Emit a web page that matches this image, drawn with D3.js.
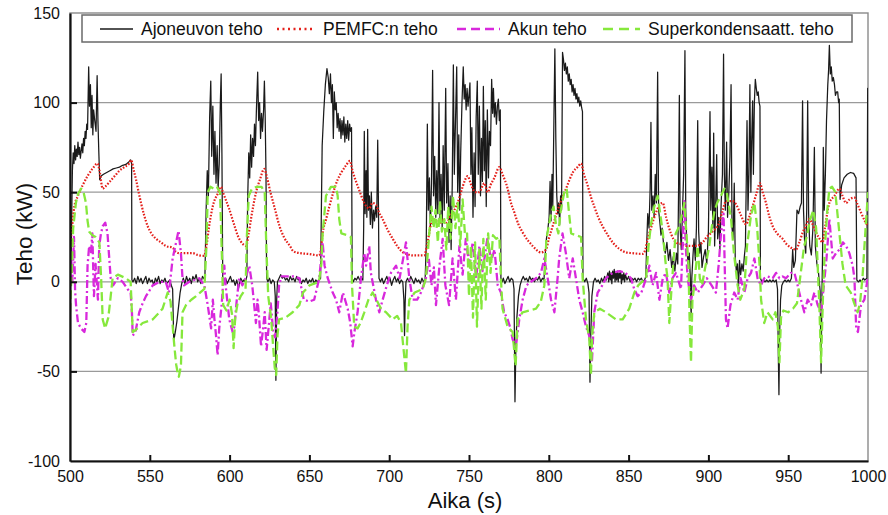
<!DOCTYPE html>
<html>
<head>
<meta charset="utf-8">
<script src="https://cdn.jsdelivr.net/npm/d3@7/dist/d3.min.js"></script>
<style>
  html, body { margin: 0; padding: 0; background: #fff; }
  svg { display: block; }
  text { font-family: "Liberation Sans", Arial, Helvetica, sans-serif; fill: #111; }
</style>
</head>
<body>
<svg id="chart" width="888" height="515"></svg>
<script>
// Power flows over time, [time s, power kW]
const vehiclePower = [
  [500,0],[500.8,20],[501.5,62],[502,72],[502.5,66],[503,76],[503.5,68],[504,74],[504.5,70],[505,78],
  [505.5,71],[506,75],[506.5,69],[507,73],[507.5,77],[508,72],[508.5,80],[509,76],[509.5,84],[510,80],
  [510.5,88],[511,85],[511.7,120],[512.2,98],[512.8,110],[513.3,86],[513.8,104],[514.3,82],[514.8,96],
  [515.5,90],[516.3,84],[517,115],[517.5,90],[518,74],[518.6,57],[519.5,59],[521,60],[523,61],[525,62],
  [527,63],[529,63.5],[531,64],[533,65],[535,65.5],[537,67],[538,68],[538.6,66],[538.8,1],[539.5,0],
  [540.5,2],[541.5,-1],[542.5,3],[543.5,0],[544.5,2],[545.5,-1],[546.5,1],[547.5,3],[548.5,-1],[549.5,2],
  [550.5,0],[551.5,1],[552.5,-2],[553.5,2],[554.5,0],[555.5,3],[556.5,-1],[557.5,1],[558.5,0],[559.5,2],
  [560.5,-1],[561.5,0],[562.5,1],[563.5,-2],[564.3,-4],[565,-33],[566,-28],[567,-22],[568,-14],[569,-6],
  [570,-1],[571,2],[572,-1],[573,3],[574,0],[575,2],[576,-1],[577,3],[578,1],[579,4],[580,0],[581,2],
  [582,-1],[583,3],[584.5,1],[585.3,40],[586,62],[586.7,48],[587.5,92],[588.2,112],[588.8,70],[589.5,98],
  [590.2,60],[590.8,84],[591.5,55],[592.2,76],[592.8,52],[593.5,66],[594.2,100],[594.7,116],[595.2,70],
  [595.7,2],[596.5,0],[597.5,2],[598.5,-1],[599.5,1],[600.5,3],[601.5,0],[602.5,1],[603.5,-2],[604.5,1],
  [605.5,-4],[606.2,-1],[607,2],[608,0],[609,1],[610,0],[610.8,3],[611.3,45],[612,72],[612.6,58],[613.2,82],
  [613.8,64],[614.4,80],[615,70],[615.6,88],[616.2,76],[616.8,96],[617.6,117],[618.2,90],[618.8,100],
  [619.4,80],[620,94],[620.6,84],[621.3,96],[621.8,112],[622.3,92],[622.8,60],[623.2,2],[624,0],[625,2],
  [626,-1],[627,1],[628,0],[628.6,-8],[629,-55],[629.5,-10],[630,0],[631,2],[632,4],[633,2],[634,3],
  [635,1],[636,2],[637,0],[638,3],[639,1],[640,2],[641,0],[642,3],[643,1],[644,2],[645,-1],[646,1],[647,0],
  [648,2],[649,-1],[650,1],[651,0],[652,2],[653,-1],[654,1],[655,0],[656,1],[657,2],[657.5,40],[658,76],
  [659,95],[660,110],[661,119],[661.8,114],[662.5,105],[663.2,116],[663.8,100],[664.4,110],[665,80],
  [665.6,106],[666.2,96],[666.8,100],[667.4,86],[668,94],[668.6,84],[669.2,91],[669.8,80],[670.4,90],
  [671,82],[671.6,92],[672.2,78],[672.8,88],[673.4,80],[674,90],[674.6,79],[675.2,88],[675.8,84],
  [676.4,86],[676.8,2],[677.5,0],[678.5,2],[679.5,1],[680.5,3],[681.5,1],[682.5,2],[683.5,1],[684,30],
  [684.4,84],[684.9,38],[685.5,62],[686,36],[686.5,85],[687,40],[687.6,48],[688.2,32],[688.8,50],
  [689.5,30],[690.2,40],[690.8,34],[691.5,42],[692.2,36],[692.8,79],[693.3,40],[693.6,2],[694.5,0],
  [695.5,2],[696.5,-1],[697.5,1],[698.5,3],[699.5,0],[700.5,2],[701.5,-2],[702.5,1],[703.5,3],[704.5,0],
  [705.5,2],[706.5,-1],[707.5,1],[708.5,0],[709.2,-10],[709.6,-30],[710,-12],[710.5,0],[711.5,2],
  [712.5,0],[713.5,3],[714.5,1],[715.5,-1],[716.5,2],[717.5,0],[718.5,1],[719.5,-1],[720.5,2],[721.5,0],
  [722.5,1],[723.2,20],[723.9,88],[724.5,40],[725.2,58],[725.8,30],[726.5,55],[727.2,118],[727.8,48],
  [728.5,70],[729.2,36],[729.8,62],[730.5,38],[731.2,100],[731.8,34],[732.5,60],[733.2,30],[733.8,76],
  [734.5,40],[735.4,108],[736,44],[736.8,66],[737.5,22],[738.2,48],[738.8,18],[739.5,54],[740.2,121],
  [740.8,60],[741.5,88],[742.3,120],[742.9,50],[743.6,82],[744.2,40],[744.8,72],[745.6,100],[746.4,120],
  [747,102],[747.6,110],[748.2,96],[748.8,108],[749.4,98],[750,104],[750.6,111],[751.2,60],[751.8,86],
  [752.5,36],[753.2,72],[753.8,42],[754.5,92],[755.2,112],[755.8,60],[756.5,98],[757.2,48],[757.8,80],
  [758.4,56],[759,109],[759.6,62],[760.2,90],[760.8,42],[761.5,96],[762.2,58],[762.8,84],[763.5,76],
  [764.2,113],[764.8,94],[765.3,108],[765.9,92],[766.5,100],[767.2,88],[767.8,98],[768.4,102],[769,90],
  [769.6,96],[770,2],[770.8,0],[771.5,2],[772.5,-1],[773.5,1],[774.5,3],[775.5,0],[776.5,2],[777.5,1],
  [778.2,-4],[778.8,-67],[779.3,-40],[780,-20],[781,-8],[782,-2],[783,1],[784,3],[785,1],[786,2],[787,0],
  [788,3],[789,1],[790,2],[791,0],[792,2],[793,1],[794,3],[795,0],[796,2],[797,1],[797.5,12],[798.5,24],
  [799.5,30],[800.2,36],[800.8,56],[801.4,34],[802,60],[802.5,42],[803.2,90],[803.8,130],[804.4,80],
  [805,48],[805.6,38],[806.2,44],[806.8,32],[807.4,48],[808,40],[808.6,128],[809.2,124],[809.8,118],
  [810.4,122],[811,116],[811.6,120],[812.2,112],[812.8,116],[813.4,110],[814,113],[814.6,106],[815.2,110],
  [815.8,104],[816.4,108],[817,102],[817.6,105],[818.2,100],[818.8,103],[819.4,98],[820,101],[820.6,97],
  [821.1,95],[821.4,2],[822.5,0],[823.5,2],[824.5,-1],[825.2,-6],[825.8,-56],[826.3,-30],[827,-8],
  [828,0],[829,2],[830,0],[831,1],[832,-1],[833,2],[834,0],[835,3],[836,1],[837,5],[837.5,0],[838,6],
  [838.5,1],[839,5],[839.5,-1],[840,6],[840.5,2],[841,7],[841.5,0],[842,5],[842.5,1],[843,6],[843.5,0],
  [844,5],[844.5,2],[845,6],[845.5,-1],[846,4],[846.5,1],[847,5],[847.5,0],[848,4],[849,1],[850,3],
  [851,0],[852,2],[853,1],[854,2],[855,0],[856,2],[857,1],[858,2],[859,0],[860,1],[860.8,3],[861.3,20],
  [862,38],[862.8,30],[863.5,52],[864,89],[864.5,40],[865.3,48],[866,36],[866.7,60],[867.4,44],
  [868.2,117],[868.8,40],[869.5,34],[870.3,26],[871,30],[872,20],[873,16],[874,22],[875,12],[876,18],
  [877,8],[878,14],[879,6],[880,16],[880.8,10],[881.3,50],[881.8,104],[882.3,30],[883,18],[883.8,40],
  [884.5,60],[885.3,129],[885.8,40],[886.5,20],[887.2,10],[888,16],[888.6,4],[889.2,-20],[889.6,2],
  [890.3,14],[891,24],[891.8,12],[892.5,30],[893.3,90],[893.9,28],[894.6,16],[895.3,22],[896,8],[897,14],
  [898,18],[899,10],[900,28],[900.5,60],[901,95],[901.5,40],[902.2,64],[902.8,30],[903.3,83],[903.9,20],
  [904.5,40],[905.2,71],[905.8,24],[906.5,36],[907.2,18],[908,44],[908.8,60],[909.5,127],[910,60],
  [910.6,40],[911.4,78],[912,36],[912.8,50],[913.5,70],[914.2,110],[914.8,30],[915.5,24],[916.2,55],
  [916.8,14],[917.5,6],[918.2,10],[918.8,-4],[919.5,12],[920.2,4],[921,10],[921.8,6],[922.5,14],
  [923.2,20],[924.2,90],[924.8,40],[925.4,60],[926,110],[926.6,50],[927.1,78],[927.7,101],[928.2,60],
  [928.8,100],[929.4,113],[930,108],[930.6,104],[931.2,106],[931.8,100],[932.3,98],[932.6,2],[933.5,0],
  [934.5,1],[935.5,0],[936.5,1],[937.5,0],[938.5,1],[939.5,0],[940.5,1],[941.5,0],[942.5,1],[943.3,-4],
  [943.8,-40],[944.2,-63],[944.6,-30],[945.2,-10],[946,-2],[947,0],[948,1],[949,0],[950,1],[951,0],
  [952,2],[952.8,18],[953.5,8],[954.5,12],[955.5,40],[956.5,38],[957.5,42],[958.3,44],[959,101],
  [959.6,40],[960.3,22],[961,16],[961.6,40],[962.2,101],[962.8,38],[963.5,20],[964.5,15],[965.5,30],
  [966.4,75],[967,20],[968,10],[969,5],[970,-5],[970.6,-51],[971.1,-10],[971.6,20],[972,75],[972.6,40],
  [973.3,60],[974,90],[974.8,110],[975.3,118],[975.8,132],[976.4,116],[977,120],[977.6,112],[978.3,114],
  [979,110],[979.6,104],[980.3,106],[981,106],[981.6,100],[982,102],[982.5,46],[983.5,54],[985,58],
  [987,60],[989,61],[991,60.5],[992.5,58],[993,1],[994,0],[995,1],[996,0],[997,2],[998,1],[999.3,2],
  [999.8,108],[1000,100]
];

const fuelCellPower = [
  [500,20],[501,28],[502.7,42],[505,48],[508,54],[511,59],[514,63],[517.3,66],[518.5,62],[520.5,52],
  [522,53],[525,56],[528,59],[531,62],[534,64],[537,66],[538.3,68],[540,62],[541.4,57],[543,50],
  [544.5,44],[546.5,37],[548.7,31],[551,27],[553.9,24],[557,22],[560,20],[564.4,19],[566,17],[568.5,16],
  [572,16],[576.8,16],[580,15],[584,14.5],[585.5,20],[587,30],[590,44],[592.5,49],[594.6,53],[595.8,50],
  [597.5,46],[599.6,41],[602.8,32],[605,26],[607,22.6],[610.3,20],[612,27],[613.4,35],[616.6,50],
  [619,57],[621.7,63],[623.5,58],[625.3,51],[628,42],[631.3,31],[634,25],[637.8,20],[640,17],[644,16],
  [650,15.5],[656,14.7],[657.2,18],[658.3,27],[660.5,35],[662.5,42],[665,50],[667.7,57],[670,61],
  [673,65],[675.4,67.5],[677,62],[680.2,53.6],[682.5,48],[684.4,44],[687.5,41],[689.5,44],[691.7,43],
  [693.5,39],[695.9,35],[699,29],[702.2,24],[705,20],[708.4,16.6],[711,15.5],[714.7,14.7],[718,14.7],
  [722,14.7],[724,22],[727.2,35],[729.5,34],[731.5,32],[733.5,35],[736,33],[738.5,37],[741.9,42],
  [744,47],[746,53],[749.2,59],[751,55],[752.3,52],[754,50],[756.4,50],[759.6,55],[761.7,50],[763.5,54],
  [765.9,58],[769,64],[771,60],[774.2,52],[776,45],[778.4,38.7],[781,32],[783.6,27.6],[787,23],
  [789.9,20],[795.1,16.4],[798.3,18],[800,24],[802.4,31],[805.6,40],[808,46],[810.8,52],[813,57],
  [815,61],[818,64],[820.2,66],[822,60],[824.4,53.6],[826.5,47],[828.5,42],[831,36],[833.7,31],[837,26],
  [840,22],[844,18.5],[848.4,16.4],[852,16],[858.8,15.6],[860.5,18],[862,24],[864,30],[867.2,38.7],
  [869.5,43],[871.4,44],[873.5,36],[875.5,29.6],[878,24],[879.7,22],[883,21],[886,20],[889,20],
  [892.3,20],[896.4,22],[899,25],[902.6,28],[906.8,33],[909,40],[911,45],[915,45],[917.5,43],[920,38],
  [923.6,32],[925.5,36],[927.7,42],[930,49],[932.3,55],[934,50],[936.1,44],[938,37],[940.3,31],[943,27],
  [946.5,24],[949,21],[951.8,19],[954.9,18],[957,22],[959.1,27.6],[961,31],[963.2,35],[964.8,33],
  [966.4,29.6],[969,25],[971.6,22],[973,30],[975.8,44],[979,48],[982.1,52],[984,48],[986.2,44],
  [988.5,46],[991.5,47],[993.5,43],[995.6,38.7],[998,34],[1000,31]
];

const batteryPower = [
  [500,2],[500.6,16],[501.5,0],[502.5,25],[503.2,-5],[503.8,-13],[505,-23],[506.9,-26],[509,-28],
  [510.2,-23],[511,9],[512,20],[513.2,16.6],[514,27],[515,-8],[516,10],[517.5,-10],[518.3,20],[519.4,27],
  [520.5,31],[522.1,33],[523.5,27],[524.6,13],[525.5,2],[527,-2],[530,2],[533,0],[536,-4],[538,-6],
  [538.8,-17],[539.3,-30],[541,-28],[543.4,-17],[545.5,-12],[547.6,-8],[551.8,-2],[556,0],[560,0],
  [562,-6],[564.3,13],[566,20],[568,28.5],[569.5,16],[570.5,2],[571.5,-2],[574.7,0],[578,1],[581,2],
  [584.2,-2],[586.3,-13],[588.4,-26],[589.5,-10],[590.5,-21],[591.5,-30],[592.5,-41],[593.5,-26],
  [595,-13],[596.7,9],[597.5,-2],[599.8,-21],[601.9,-28],[603,-25],[604.5,-10],[606,2],[608,-2],[610,2],
  [612.3,9],[614.2,-2],[616.5,-23],[617.5,-10],[618.5,-20],[619.7,-36],[621,-26],[622,-17],[623.2,-38],
  [624.5,-25],[625.8,-12],[627.4,-29],[628.5,-31],[630,-17],[631,-2],[632.5,3],[636,3],[640,3],
  [643.7,2],[646.5,-10],[650,-11],[653,-10],[656.2,2],[658.3,22],[659.5,9],[661.5,2],[664.6,-6],
  [666.7,-10],[668.7,-17],[671,-6],[674,-15],[675.6,-23],[677.1,-36],[678.2,-28],[680.2,-17],[682.3,2],
  [684.4,16],[685.5,9],[687.5,20],[688.5,5],[691.7,-10],[693.8,-17],[695.9,-10],[698.5,-2],[701.1,5],
  [704.3,9],[706.5,2],[709.5,16.6],[710.5,22],[712.6,2],[714.7,-10],[717.5,-10],[719.9,-6],[723,2],
  [724.8,13],[726.5,-2],[728,8],[729.3,-13],[731.5,9],[733.5,24],[735.2,-2],[737.5,-13],[739.7,13],
  [741.8,-10],[744,20],[746,4],[748,24],[750.2,9],[752.3,22],[754.5,2],[756.5,20],[758.5,6],[761.5,24],
  [764,12],[766,18],[768,-2],[770,-6],[772,-17],[774.2,-21],[776,-26],[777.3,-32],[779.4,-36],
  [781.5,-21],[783.6,-10],[786,-2],[788.8,0],[792,2],[795.1,5],[797.2,13],[799.3,2],[801.4,-10],
  [803.5,-17],[805.5,2],[806.5,13],[808.6,27],[810.7,16],[812.8,2],[815,13],[817,2],[819.1,-10],
  [821.2,-17],[823.3,-25],[825.3,-30],[827,-45],[828.5,-17],[830.6,-6],[833.5,-2],[835.8,2],[840,5],
  [844.2,6],[848,5],[851.5,2],[853.5,-4],[855.7,-8],[858,-6],[861,2],[863,9],[865,-2],[867.2,5],
  [869.3,-10],[871.4,2],[873.4,5],[875.5,-6],[877.5,2],[879.7,5],[882.8,-4],[884.3,30],[884.9,45],
  [885.8,20],[887,2],[889.1,-10],[891,-2],[893.3,-6],[896.4,-2],[899,2],[902,-2],[904.7,-6],[906.5,10],
  [907.9,27],[909.5,38],[910.2,10],[911,-21],[912,-26],[913.8,-13],[916.2,-6],[918.3,-10],[920.2,2],
  [922.5,-6],[924.6,2],[926.7,5],[928.8,13],[930.8,2],[932.9,-2],[935,2],[937,3],[940.3,2],[942.4,5],
  [944.5,2],[946.5,3],[948.6,2],[951.8,5],[953.9,5],[955.9,-2],[958,-10],[960.1,-17],[962.2,-10],
  [964.3,-13],[966.4,-6],[968.5,-13],[970.6,-17],[972.1,-4],[974,13],[975.8,35],[977.9,13],[980,16],
  [982.1,18],[984.2,22],[986.3,20],[988.3,16],[990.4,9],[991.5,2],[992.6,-26],[993.7,-28],[995.6,-13],
  [997.7,-10],[999.8,2],[1000,2]
];

const supercapPower = [
  [500,-17],[501,5],[502,30],[503.7,44],[505,49],[507,52],[508.5,50],[510,44],[511,34],[512,28],[514,26],
  [516,25],[518.4,22],[519.5,2],[520.5,-21],[522,-26],[524,-20],[525.5,-8],[526.7,2],[530,4],[535,2],
  [538,0],[539.3,-28],[541,-27],[545.5,-23],[551.8,-21],[555,-18],[558,-15],[561.2,-6],[563,-11],
  [565.4,-36],[566.5,-46],[567.5,-51],[568.2,-53],[569.5,-47],[570.5,-17],[572.7,-13],[576,-10],[579,-8],
  [584.2,-4],[585.5,20],[586.3,50],[588,53],[590,52],[592,53],[594,50],[595,20],[596,-13],[598,-16],
  [600,-10],[601.5,-18],[602.5,-37],[603.5,-20],[605,-12],[607,-8],[610,-4],[610.8,25],[612,48],[614,52],
  [617,53],[620,53],[622,50],[623,20],[624.2,-8],[626,-20],[627.2,-35],[628.3,-48],[629.2,-52],[630,-30],
  [631,-21],[635,-20],[639.5,-17],[643.7,-13],[646,-6],[650,-2],[656,0],[657.5,10],[658.3,27],[660.4,48],
  [663.5,53],[666.7,53],[667.7,48],[668.7,35],[670,27],[674,26],[676,25],[676.7,-2],[678.1,-25],
  [680.2,-26],[682,-23],[684.4,-17],[687,-10],[689.6,-6],[692,-10],[694.9,-15],[698,-17],[702.2,-21],
  [705,-19],[707.4,-23],[708.8,-36],[710.5,-51],[711.5,-25],[712.6,-10],[716,-6],[721,-4],[723,2],
  [725.1,27],[726.5,42],[727.8,30],[729,40],[730.5,22],[731.8,45],[733,28],[734.5,35],[735.8,18],[737,42],
  [738.5,24],[740,48],[741.5,30],[743,44],[744.5,20],[746,46],[747.5,26],[748.8,27],[750,-8],[751.2,20],
  [752.5,-20],[753.8,22],[755,-25],[756.5,18],[757.8,-15],[759,24],[760.5,-10],[762,27],[763.5,5],
  [765,26],[767,24],[769,25],[770,2],[771,-15],[774.2,-25],[777.3,-28],[778.5,-40],[779.2,-47],
  [780.5,-21],[783.6,-17],[788,-16],[792,-15],[795,-11],[797.2,-2],[798.5,24],[801.4,38],[803,42],
  [804.5,32],[806,27],[807.5,40],[809.7,50],[811.2,52],[812.5,40],[814,27],[817,26],[820.2,25],[821.2,2],
  [823.3,-21],[825.4,-32],[826.4,-52],[827.2,-30],[828.5,-17],[832,-15],[835.8,-17],[842.1,-21],
  [846.3,-21],[850.4,-15],[853.6,-6],[856,-2],[861,2],[862.5,20],[864,32],[866.1,42],[868.2,48],
  [869.5,40],[871.5,27],[873,12],[874.4,2],[875.5,-23],[876.8,-5],[878,10],[879.5,27],[881.8,31],
  [883.5,38],[884.9,44],[886,30],[887.5,10],[888.2,-20],[889.1,-45],[890,-10],[891.2,-2],[893.3,20],
  [894.6,2],[896,-2],[898,8],[900.6,20],[902,30],[903.7,39],[905.5,44],[907.9,48],[910,52],[911.5,50],
  [914.2,35],[916,16],[918.3,-2],[920,-10],[922.5,-4],[924.2,20],[926.7,37],[928.8,44],[930.5,31],
  [932,10],[933,-10],[935,-23],[937,-17],[940.3,-21],[942,-17],[943.5,-25],[944.5,-45],[945.5,-20],
  [947,-16],[950,-17],[953,-15],[955.5,-12],[958,6],[960,20],[961.6,25],[963.5,34],[965.7,40],[967.5,30],
  [969.5,-13],[970.6,-45],[971.8,-8],[973,20],[974.5,40],[975.8,52],[977.5,53],[979.5,50],[982.1,27],
  [984,10],[986,-2],[989.2,-6],[991,-11],[993.5,-17],[995,-12],[996.5,2],[998.5,30],[1000,50]
];

const seriesNames = ["Ajoneuvon teho", "PEMFC:n teho", "Akun teho", "Superkondensaatt. teho"];
const xTicks = [500, 550, 600, 650, 700, 750, 800, 850, 900, 950, 1000];
const yTicks = [-100, -50, 0, 50, 100, 150];
const gridValues = [-50, 0, 50, 100];

const svg = d3.select("#chart");
const plot = { left: 70, right: 868, top: 13, bottom: 461 };

const x = d3.scaleLinear().domain([500, 1000]).range([plot.left, plot.right]);
const y = d3.scaleLinear().domain([-100, 150]).range([plot.bottom, plot.top]);

// plot frame: thin grey top/right border
svg.append("rect")
  .attr("x", plot.left).attr("y", plot.top)
  .attr("width", plot.right - plot.left).attr("height", plot.bottom - plot.top)
  .attr("fill", "#fff").attr("stroke", "#8a8a8a").attr("stroke-width", 1.4);

// horizontal grid lines
svg.append("g").selectAll("line").data(gridValues).join("line")
  .attr("x1", plot.left).attr("x2", plot.right)
  .attr("y1", d => y(d)).attr("y2", d => y(d))
  .attr("stroke", "#9a9a9a").attr("stroke-width", 1.3);

svg.append("defs").append("clipPath").attr("id", "clip")
  .append("rect").attr("x", plot.left).attr("y", plot.top)
  .attr("width", plot.right - plot.left).attr("height", plot.bottom - plot.top);

const line = d3.line().x(d => x(d[0])).y(d => y(d[1]));
const smooth = d3.line().x(d => x(d[0])).y(d => y(d[1])).curve(d3.curveMonotoneX);

const styles = [
  { color: "#1a1a1a", width: 1.25, dash: null },
  { color: "#e4201b", width: 2.2, dash: "1.6,1.6" },
  { color: "#d828dc", width: 2.3, dash: "8,3,2,3" },
  { color: "#86e83c", width: 2.3, dash: "9,4" }
];

const lines = svg.append("g").attr("clip-path", "url(#clip)");
[[vehiclePower, line], [fuelCellPower, smooth], [batteryPower, line], [supercapPower, line]]
  .forEach(([data, gen], i) => {
    lines.append("path")
      .datum(data)
      .attr("d", gen)
      .attr("fill", "none")
      .attr("stroke", styles[i].color)
      .attr("stroke-width", styles[i].width)
      .attr("stroke-dasharray", styles[i].dash)
      .attr("stroke-linejoin", "round");
  });

// axes; labels use a plain hyphen for negatives and no thousands separator
const plain = d => String(d);
const xAxis = d3.axisBottom(x).tickValues(xTicks).tickFormat(plain)
  .tickSizeInner(-6).tickSizeOuter(0).tickPadding(10);
const yAxis = d3.axisLeft(y).tickValues(yTicks).tickFormat(plain)
  .tickSizeInner(-7).tickSizeOuter(0).tickPadding(10);

const gx = svg.append("g").attr("transform", `translate(0,${plot.bottom})`).call(xAxis);
const gy = svg.append("g").attr("transform", `translate(${plot.left},0)`).call(yAxis);
[gx, gy].forEach(g => {
  g.select(".domain").attr("stroke", "#111").attr("stroke-width", 2.2);
  g.selectAll(".tick line").attr("stroke", "#111").attr("stroke-width", 2);
  g.selectAll(".tick text").attr("font-size", 16).attr("fill", "#111")
    .attr("font-family", "'Liberation Sans', Arial, sans-serif");
});
gx.selectAll(".tick").filter(d => d === 500 || d === 1000).select("line").remove();
gy.selectAll(".tick").filter(d => d === -100 || d === 150).select("line").remove();

// axis titles
svg.append("text")
  .attr("x", 465).attr("y", 508)
  .attr("text-anchor", "middle").attr("font-size", 22)
  .text("Aika (s)");
svg.append("text")
  .attr("transform", "translate(32,234) rotate(-90)")
  .attr("text-anchor", "middle").attr("font-size", 22.5)
  .text("Teho (kW)");

// legend
const legend = svg.append("g");
legend.append("rect")
  .attr("x", 82).attr("y", 15).attr("width", 770).attr("height", 27)
  .attr("fill", "#fff").attr("stroke", "#6a6a6a").attr("stroke-width", 1.5);
const legendSamples = [[100, 133], [277, 315], [457, 500], [603, 640]];
seriesNames.forEach((name, i) => {
  const [a, b] = legendSamples[i];
  legend.append("line")
    .attr("x1", a).attr("x2", b).attr("y1", 29).attr("y2", 29)
    .attr("stroke", styles[i].color)
    .attr("stroke-width", i === 0 ? 1.3 : 2.4)
    .attr("stroke-dasharray", i === 1 ? "2,3.5" : i === 2 ? "9,5" : i === 3 ? "10,6" : null);
  legend.append("text")
    .attr("x", b + 8).attr("y", 35)
    .attr("font-size", 17.5)
    .text(name);
});
</script>
</body>
</html>
